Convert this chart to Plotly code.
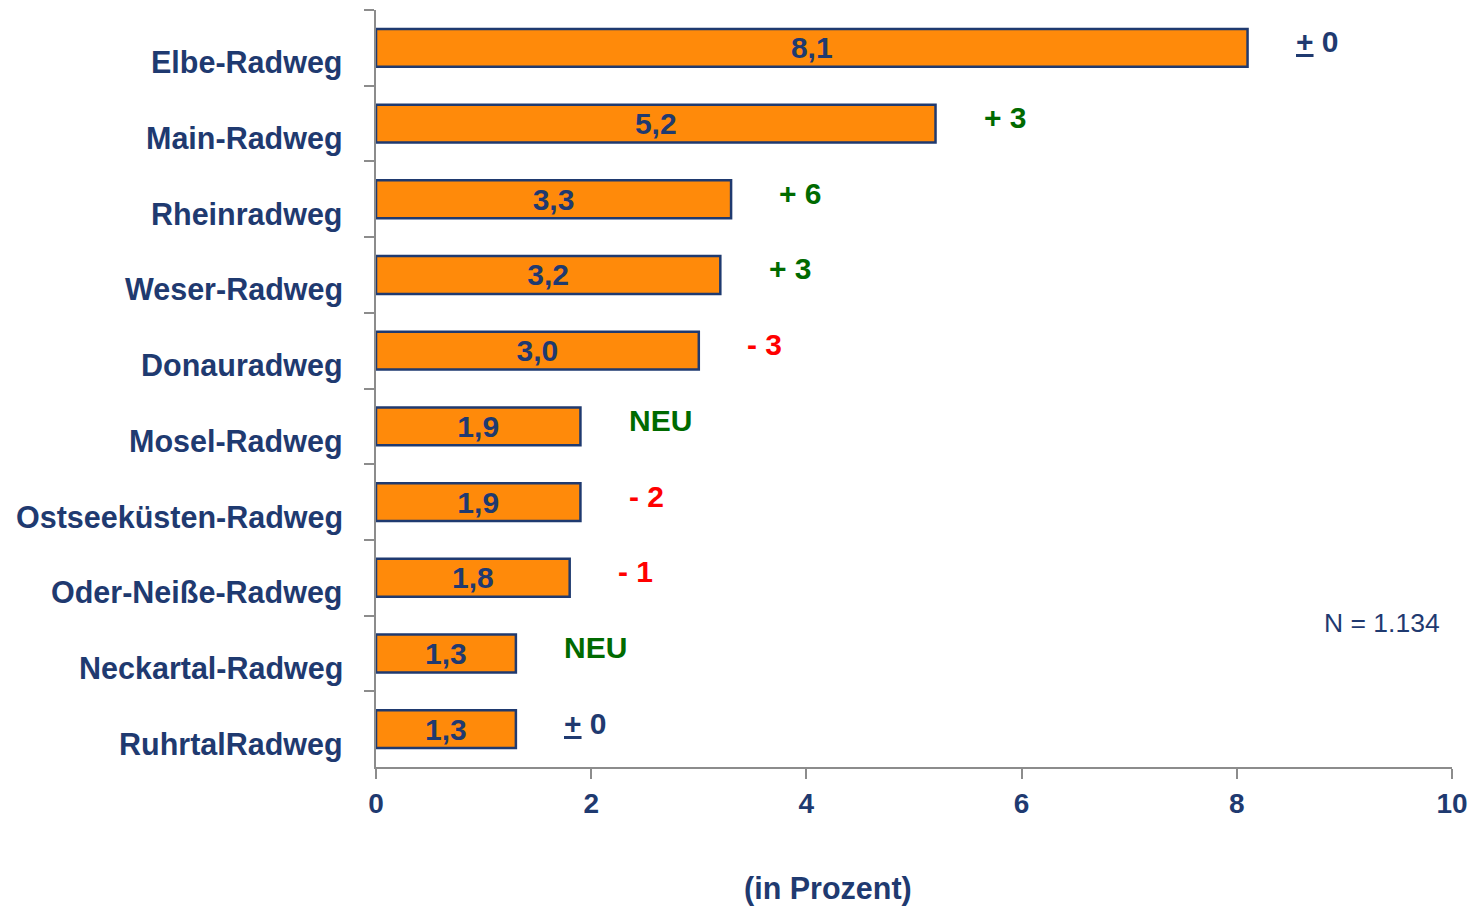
import plotly.graph_objects as go

categories = ["Elbe-Radweg", "Main-Radweg", "Rheinradweg", "Weser-Radweg", "Donauradweg",
              "Mosel-Radweg", "Ostseeküsten-Radweg", "Oder-Neiße-Radweg", "Neckartal-Radweg",
              "RuhrtalRadweg"]
values = [8.1, 5.2, 3.3, 3.2, 3.0, 1.9, 1.9, 1.8, 1.3, 1.3]
changes = ["<u>+</u> 0", "+ 3", "+ 6", "+ 3", "- 3", "NEU", "- 2", "- 1", "NEU", "<u>+</u> 0"]
x_ticks = [0, 2, 4, 6, 8, 10]

NAVY = "#1F3A70"
ORANGE = "#FF8A0A"
GREEN = "#006A00"
RED = "#FF0000"
FONT = "Liberation Sans, Arial"

def change_color(c):
    if c.startswith("-"):
        return RED
    if c.startswith("+") or c == "NEU":
        return GREEN
    return NAVY

fig = go.Figure()
fig.add_trace(go.Bar(
    y=categories, x=values, orientation="h", width=0.5,
    marker=dict(color=ORANGE, line=dict(color=NAVY, width=2.5)),
    text=[f"{v:.1f}".replace(".", ",") for v in values],
    textposition="inside", insidetextanchor="middle", constraintext="none",
    textfont=dict(family=FONT, size=30, color=NAVY, weight="bold"),
    hoverinfo="skip",
))

annotations = []
for cat in categories:
    annotations.append(dict(
        x=0, xref="paper", y=cat, yref="y", text=cat, showarrow=False,
        xanchor="right", yanchor="middle", xshift=-31, yshift=-15,
        font=dict(family=FONT, size=30.5, color=NAVY, weight="bold"),
    ))
for cat, v, c in zip(categories, values, changes):
    annotations.append(dict(
        x=v + 0.43, xref="x", y=cat, yref="y", text=c, showarrow=False,
        xanchor="left", yanchor="middle", yshift=6,
        font=dict(family=FONT, size=30, color=change_color(c), weight="bold"),
    ))
annotations.append(dict(
    x=1.0, xref="paper", y=categories[8], yref="y", text="N = 1.134", showarrow=False,
    xanchor="right", yanchor="middle", xshift=-10, yshift=30,
    font=dict(family=FONT, size=26.5, color=NAVY),
))
annotations.append(dict(
    x=0.42, xref="paper", y=0, yref="paper", text="(in Prozent)", showarrow=False,
    xanchor="center", yanchor="middle", yshift=-121,
    font=dict(family=FONT, size=30.5, color=NAVY, weight="bold"),
))

fig.update_layout(
    width=1477, height=907,
    margin=dict(l=376, r=25, t=10, b=140, autoexpand=False),
    plot_bgcolor="white", paper_bgcolor="white",
    showlegend=False,
    annotations=annotations,
    xaxis=dict(
        range=[0, 10], tickvals=x_ticks, ticktext=[str(t) for t in x_ticks],
        automargin=False,
        showgrid=False, zeroline=False, showline=True, linecolor="#8C8C8C", linewidth=2,
        ticks="outside", ticklen=10, tickwidth=2, tickcolor="#8C8C8C",
        tickfont=dict(family=FONT, size=28, color=NAVY, weight="bold"),
    ),
    yaxis=dict(
        categoryorder="array", categoryarray=categories, autorange="reversed",
        showticklabels=False, tickson="boundaries", automargin=False,
        showgrid=False, zeroline=False, showline=True, linecolor="#8C8C8C", linewidth=2,
        ticks="outside", ticklen=10, tickwidth=2, tickcolor="#8C8C8C",
    ),
)

fig.write_html("out.html", config={"displayModeBar": False},
               post_script="document.body.style.margin='0';")
